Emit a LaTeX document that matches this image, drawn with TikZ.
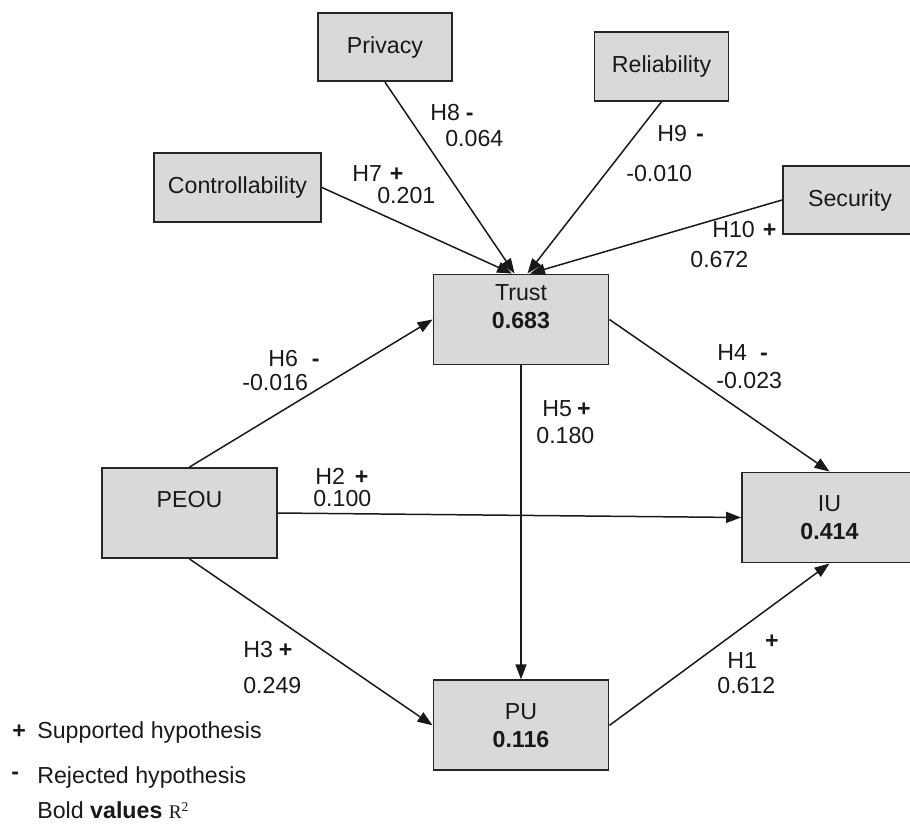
\documentclass[tikz,border=0pt]{standalone}
\usepackage{fontspec}
\setmainfont{Liberation Sans}
\newfontfamily\serifR{Liberation Serif}
\usepackage{tikz}
\usetikzlibrary{arrows.meta, positioning}
\tikzset{
  construct/.style={rectangle, draw=black!85, fill=black!15, line width=1.1pt,
                    minimum width=3.5cm, minimum height=1.8cm, inner sep=0pt,
                    align=center, text=black!90},
  factor/.style={construct, minimum width=2.68cm, minimum height=1.37cm},
  boxtext/.style={align=center, inner sep=0pt, text=black!90},
  arrow/.style={-{Triangle[length=0.3cm, width=0.22cm]}, line width=0.85pt, draw=black!90},
  hyp/.style={anchor=base west, inner sep=0pt, text=black!90},
}

\begin{document}
\begin{tikzpicture}[x=0.02cm, y=0.02cm, font=\fontsize{13.2}{15.8}\selectfont]
  \useasboundingbox (0,0) rectangle (910,-823);

  % antecedents of trust
  \node[factor] (privacy)  at (385,-47)  {Privacy};
  \node[factor, minimum width=3.34cm, minimum height=1.38cm] (control) at (237.5,-187.5) {Controllability};
  \node[factor] (reliab)   at (661.5,-66.5) {Reliability};
  \node[factor] (security) at (850,-200) {Security};

  % core model
  \node[construct] (trust) at (521,-319.5) {};
  \node[boxtext] (trusttxt) at ([yshift=0.26cm]trust.center) {Trust\\\textbf{0.683}};
  \node[construct] (peou) at (189.5,-513) {};
  \node[boxtext] (peoutxt) at ([yshift=0.26cm]peou.center) {PEOU};
  \node[construct] (iu) at (829.5,-517.5) {IU\\\textbf{0.414}};
  \node[construct, below=6.28cm of trust] (pu) {PU\\\textbf{0.116}};

  \draw[arrow] (control.east)   -- (trust.101);
  \draw[arrow] (privacy.south)  -- (trust.98);
  \draw[arrow] (reliab.south)   -- (trust.82);
  \draw[arrow] (security.west)  -- (trust.79);
  \draw[arrow] (peou.north)     -- (trust.west);
  \draw[arrow] (peou.east)      -- (iu.west);
  \draw[arrow] (peou.south)     -- (pu.west);
  \draw[arrow] (trust.south)    -- (pu.north);
  \draw[arrow] (trust.east)     -- (iu.north);
  \draw[arrow] (pu.east)        -- (iu.south);

  % path labels
  \node[hyp] (h8)  at (430,-120) {H8\hspace{0.12cm}\textbf{-}};
  \node[hyp] (v8)  at (445,-146) {0.064};
  \node[hyp] (h7)  at (352,-181) {H7\hspace{0.16cm}\textbf{+}};
  \node[hyp] (v7)  at (377,-203) {0.201};
  \node[hyp] (h9)  at (657,-141) {H9\hspace{0.18cm}\textbf{-}};
  \node[hyp] (v9)  at (626,-181) {-0.010};
  \node[hyp] (h10) at (712,-237) {H10\hspace{0.16cm}\textbf{+}};
  \node[hyp] (v10) at (690,-267) {0.672};
  \node[hyp] (h6)  at (268,-366) {H6\hspace{0.28cm}\textbf{-}};
  \node[hyp] (v6)  at (242,-390) {-0.016};
  \node[hyp] (h2)  at (315,-484) {H2\hspace{0.2cm}\textbf{+}};
  \node[hyp] (v2)  at (313,-506) {0.100};
  \node[hyp] (h5)  at (542,-416) {H5\hspace{0.1cm}\textbf{+}};
  \node[hyp] (v5)  at (536,-443) {0.180};
  \node[hyp] (h4)  at (717,-360) {H4\hspace{0.26cm}\textbf{-}};
  \node[hyp] (v4)  at (716,-388) {-0.023};
  \node[hyp] (h3)  at (243,-657) {H3\hspace{0.12cm}\textbf{+}};
  \node[hyp] (v3)  at (243,-693) {0.249};
  \node[hyp] (h1)  at (727,-668) {H1\hspace{0.16cm}\raisebox{0.4cm}{\textbf{+}}};
  \node[hyp] (v1)  at (717,-693) {0.612};

  % legend
  \node[hyp] (legplus)  at (12,-738) {\textbf{+}};
  \node[hyp] (legsup)   at (37,-738) {Supported hypothesis};
  \node[hyp] (legminus) at (11,-779) {\textbf{-}};
  \node[hyp] (legrej)   at (37,-783) {Rejected hypothesis};
  \node[hyp] (legbold)  at (37,-818) {Bold \textbf{values} {\serifR\fontsize{11}{13}\selectfont R\textsuperscript{2}}};

\end{tikzpicture}
\end{document}
